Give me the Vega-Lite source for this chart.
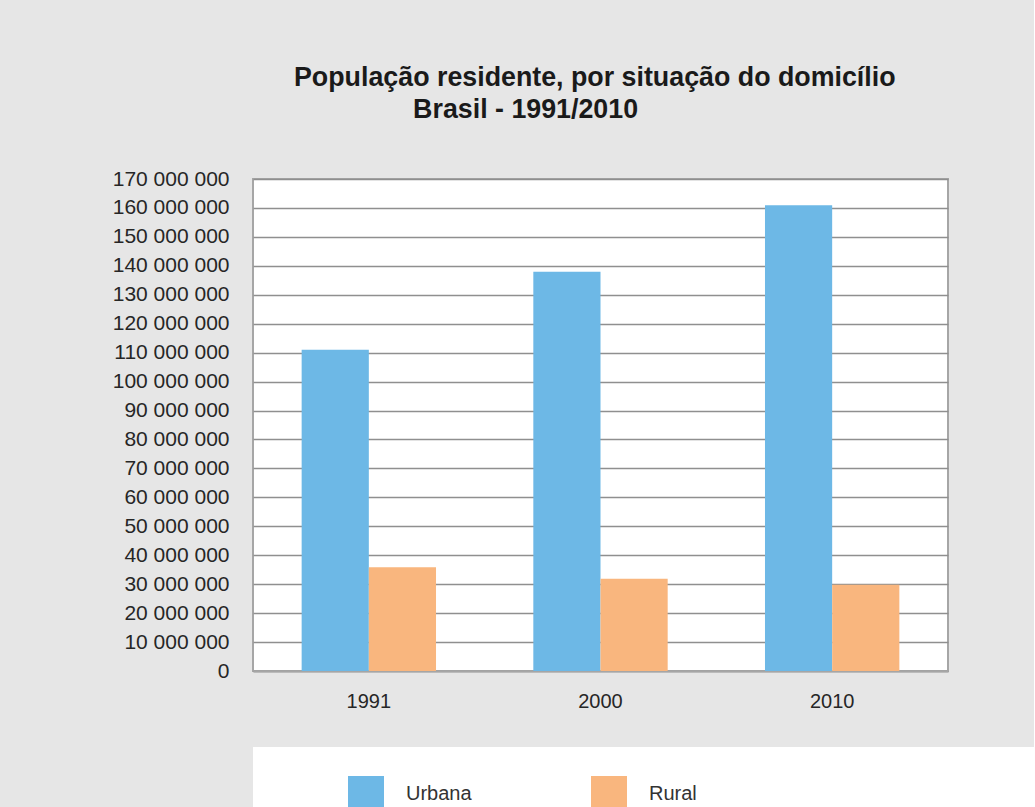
{
  "$schema": "https://vega.github.io/schema/vega-lite/v6.json",
  "background": "#e6e6e6",
  "padding": {"left": 111, "top": 64, "right": 0, "bottom": 0},
  "spacing": 35,
  "config": {
    "font": "Liberation Sans",
    "axis": {"labelColor": "#262626", "labelFont": "Liberation Sans"}
  },
  "resolve": {"scale": {"color": "shared"}, "legend": {"color": "independent"}},
  "vconcat": [
    {
      "width": 695,
      "height": 492,
      "view": {"fill": "white", "stroke": "#a6a6a6", "strokeWidth": 2},
      "title": {
        "text": ["População residente, por situação do domicílio", "\u200b\u00a0\u00a0\u00a0\u00a0\u00a0\u00a0\u00a0\u00a0\u00a0\u00a0\u00a0\u00a0\u00a0\u00a0\u00a0\u00a0Brasil - 1991/2010"],
        "anchor": "start",
        "frame": "group",
        "align": "left",
        "dx": 41,
        "offset": 44,
        "font": "Liberation Sans",
        "fontWeight": "bold",
        "fontSize": 26.8,
        "lineHeight": 32,
        "color": "#1a1a1a"
      },
      "data": {
        "values": [
          {"ano": "1991", "situacao": "Urbana", "populacao": 110990990},
          {"ano": "1991", "situacao": "Rural", "populacao": 35834485},
          {"ano": "2000", "situacao": "Urbana", "populacao": 137953959},
          {"ano": "2000", "situacao": "Rural", "populacao": 31845211},
          {"ano": "2010", "situacao": "Urbana", "populacao": 160925792},
          {"ano": "2010", "situacao": "Rural", "populacao": 29830007}
        ]
      },
      "mark": {"type": "bar"},
      "encoding": {
        "x": {
          "field": "ano",
          "type": "nominal",
          "scale": {"paddingInner": 0.42, "paddingOuter": 0.21},
          "axis": {
            "title": null,
            "labelAngle": 0,
            "ticks": false,
            "tickSize": 0,
            "domain": true,
            "domainColor": "#a6a6a6",
            "domainWidth": 2,
            "labelPadding": 20,
            "labelFontSize": 20,
            "labelBaseline": "top"
          }
        },
        "xOffset": {
          "field": "situacao",
          "type": "nominal",
          "sort": ["Urbana", "Rural"],
          "scale": {"paddingInner": 0, "paddingOuter": 0}
        },
        "y": {
          "field": "populacao",
          "type": "quantitative",
          "scale": {"domain": [0, 170000000], "nice": false},
          "axis": {
            "title": null,
            "values": [0, 10000000, 20000000, 30000000, 40000000, 50000000, 60000000, 70000000, 80000000, 90000000, 100000000, 110000000, 120000000, 130000000, 140000000, 150000000, 160000000, 170000000],
            "labelExpr": "replace(format(datum.value, ',d'), /,/g, ' ')",
            "grid": true,
            "gridColor": "#8f8f8f",
            "gridWidth": 1.3,
            "ticks": false,
            "tickSize": 0,
            "domain": false,
            "labelPadding": 24,
            "labelFontSize": 21
          }
        },
        "color": {
          "field": "situacao",
          "type": "nominal",
          "scale": {"domain": ["Urbana", "Rural"], "range": ["#6db8e6", "#f9b67e"]},
          "legend": null
        }
      }
    },
    {
      "width": 781,
      "height": 60,
      "view": {"fill": "white", "stroke": null},
      "data": {
        "values": [
          {"situacao": "Urbana"},
          {"situacao": "Rural"}
        ]
      },
      "mark": {"type": "square", "opacity": 0},
      "encoding": {
        "color": {
          "field": "situacao",
          "type": "nominal",
          "scale": {"domain": ["Urbana", "Rural"], "range": ["#6db8e6", "#f9b67e"]},
          "legend": {
            "title": null,
            "orient": "none",
            "legendX": 95,
            "legendY": 29,
            "direction": "horizontal",
            "padding": 0,
            "symbolType": "square",
            "symbolSize": 1296,
            "symbolStrokeWidth": 0,
            "symbolOpacity": 1,
            "labelFontSize": 20,
            "labelFont": "Liberation Sans",
            "labelColor": "#333333",
            "labelOffset": 22,
            "columnPadding": 119
          }
        }
      }
    }
  ]
}
